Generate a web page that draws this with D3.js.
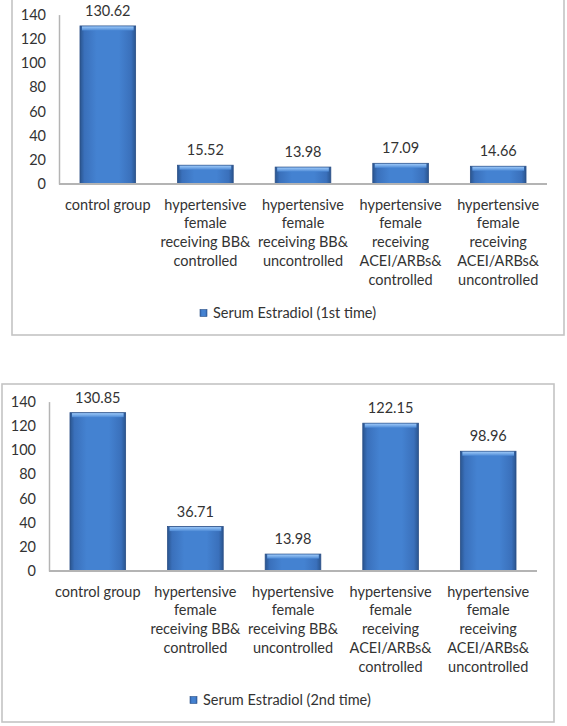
<!DOCTYPE html>
<html>
<head>
<meta charset="utf-8">
<script src="https://cdn.jsdelivr.net/npm/d3@7"></script>
<style>
  html, body { margin: 0; padding: 0; background: #ffffff; }
  svg { display: block; }
  text { font-family: Lato, "Open Sans", sans-serif; fill: #333333; }
</style>
</head>
<body>
<svg id="chart" width="567" height="726"></svg>
<script>
// ---- data ----
const categories = [
  ["control group"],
  ["hypertensive", "female", "receiving BB&", "controlled"],
  ["hypertensive", "female", "receiving BB&", "uncontrolled"],
  ["hypertensive", "female", "receiving", "ACEI/ARBs&", "controlled"],
  ["hypertensive", "female", "receiving", "ACEI/ARBs&", "uncontrolled"]
];
const firstTimeValues  = [130.62, 15.52, 13.98, 17.09, 14.66];
const secondTimeValues = [130.85, 36.71, 13.98, 122.15, 98.96];
const seriesNames = ["Serum Estradiol (1st time)", "Serum Estradiol (2nd time)"];
const yTicks = [0, 20, 40, 60, 80, 100, 120, 140];

// ---- drawing ----
const svg = d3.select("#chart");
const defs = svg.append("defs");

const hg = defs.append("linearGradient").attr("id", "barH").attr("x1", 0).attr("x2", 1).attr("y1", 0).attr("y2", 0);
[[0, "#2a558f"], [0.08, "#3a70bb"], [0.3, "#4482d1"], [0.7, "#4482d1"], [0.92, "#3a70bb"], [1, "#2a558f"]]
  .forEach(([o, c]) => hg.append("stop").attr("offset", o).attr("stop-color", c));
const vg = defs.append("linearGradient").attr("id", "barTop").attr("x1", 0).attr("x2", 0).attr("y1", 0).attr("y2", 1);
[[0, "#9cc8f8"], [1, "#4d8ad6"]].forEach(([o, c]) => vg.append("stop").attr("offset", o).attr("stop-color", c));

const FS = "14.5px";

function drawChart(bx, by, values, seriesName) {
  const W = 552, H = 338;
  const g = svg.append("g").attr("transform", `translate(${bx},${by})`);
  g.append("rect").attr("x", 0).attr("y", 0).attr("width", W).attr("height", H)
    .attr("fill", "#ffffff").attr("stroke", "#c4c4c4").attr("stroke-width", 1.6);

  const plotL = 47, plotR = 535, plotT = 17.6, plotB = 187;
  const x = d3.scaleBand().domain(d3.range(values.length)).range([plotL, plotR]).paddingInner(0.43).paddingOuter(0.215);
  const y = d3.scaleLinear().domain([0, 140]).range([plotB, plotT]);

  // y axis
  const yAxis = d3.axisLeft(y).tickValues(yTicks).tickSize(0).tickPadding(13).tickFormat(d3.format("d"));
  const ya = g.append("g").attr("transform", `translate(${plotL},0)`).call(yAxis);
  ya.select(".domain").attr("stroke", "#b4b4b4").attr("stroke-width", 1.5);
  ya.selectAll("text").style("font-size", FS).attr("fill", "#333333").style("font-family", "Lato, 'Open Sans', sans-serif");

  // bars
  const bars = g.append("g");
  values.forEach((v, i) => {
    bars.append("rect").attr("x", x(i)).attr("y", y(v)).attr("width", x.bandwidth()).attr("height", y(0) - y(v))
      .attr("fill", "url(#barH)").attr("stroke", "#2b4f86").attr("stroke-width", 0.8);
    bars.append("rect").attr("x", x(i) + 2).attr("y", y(v) + 0.5).attr("width", x.bandwidth() - 4).attr("height", Math.min(4, y(0) - y(v) - 1))
      .attr("fill", "url(#barTop)");
  });

  // baseline
  g.append("line").attr("x1", plotL).attr("x2", plotR).attr("y1", y(0)).attr("y2", y(0))
    .attr("stroke", "#b4b4b4").attr("stroke-width", 1.8);

  // value labels
  g.append("g").selectAll("text").data(values).join("text")
    .attr("x", (d, i) => x(i) + x.bandwidth() / 2)
    .attr("y", d => y(d) - 10)
    .attr("text-anchor", "middle")
    .style("font-size", FS)
    .text(d => d.toFixed(2));

  // category labels
  const cl = g.append("g");
  categories.forEach((lines, i) => {
    const t = cl.append("text").attr("text-anchor", "middle").style("font-size", FS)
      .attr("x", x(i) + x.bandwidth() / 2).attr("y", 212.5);
    lines.forEach((ln, k) => t.append("tspan").attr("x", x(i) + x.bandwidth() / 2).attr("dy", k === 0 ? 0 : 18.9).text(ln));
  });

  // legend
  const lg = g.append("g").attr("transform", "translate(188,316)");
  lg.append("rect").attr("x", 0).attr("y", -3.5).attr("width", 7).attr("height", 7)
    .attr("fill", "url(#barH)").attr("stroke", "#2b4f86").attr("stroke-width", 0.6);
  lg.append("text").attr("x", 13).attr("y", 5).style("font-size", FS).text(seriesName);
}

drawChart(12, -3, firstTimeValues, seriesNames[0]);
drawChart(2, 384, secondTimeValues, seriesNames[1]);
</script>
</body>
</html>
